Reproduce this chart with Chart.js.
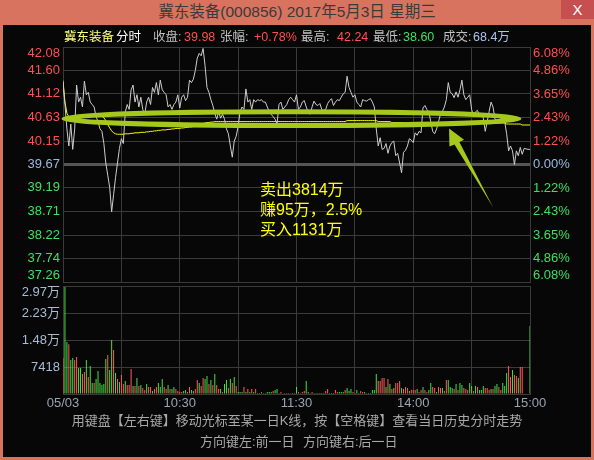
<!DOCTYPE html>
<html>
<head>
<meta charset="utf-8">
<script src="https://cdn.jsdelivr.net/npm/chart.js@4.4.1/dist/chart.umd.min.js"></script>
<style>
body{margin:0;width:594px;height:460px;background:#d7735f;overflow:hidden;position:relative;font-family:"Liberation Sans","Noto Sans CJK SC",sans-serif;}
#title{position:absolute;left:0;top:0;width:594px;height:25px;line-height:23px;text-align:center;color:#3a3a3a;font-size:15.5px;}
#close{position:absolute;right:0;top:0;width:33px;height:19px;background:#c64f4f;color:#fff;text-align:center;font-size:15px;line-height:19px;}
#frame{position:absolute;left:3px;top:25px;width:588px;height:432px;background:#070707;}
canvas{position:absolute;left:0;}
#price{top:0;}
#vol{top:262px;}
.hd{position:absolute;top:29px;font-size:12.5px;line-height:16px;white-space:nowrap;}
#note{position:absolute;left:260px;top:180px;font-size:16px;line-height:20px;color:#ffff00;white-space:nowrap;}
.ft{position:absolute;font-size:13px;line-height:16px;color:#a8a8a8;white-space:nowrap;}
</style>
</head>
<body>
<div id="title">冀东装备(000856) 2017年5月3日 星期三</div>
<div id="close">X</div>
<div id="frame"></div>
<canvas id="price" width="594" height="310"></canvas>
<canvas id="vol" width="594" height="198"></canvas>

<div class="hd" style="left:64px;color:#ffff80">冀东装备</div>
<div class="hd" style="left:116px;color:#ffffff">分时</div>
<div class="hd" style="left:153px;color:#c0c0c0">收盘:</div>
<div class="hd" style="left:184px;color:#ff5050">39.98</div>
<div class="hd" style="left:220px;color:#c0c0c0">张幅:</div>
<div class="hd" style="left:254px;color:#ff5050">+0.78%</div>
<div class="hd" style="left:301px;color:#c0c0c0">最高:</div>
<div class="hd" style="left:337px;color:#ff5050">42.24</div>
<div class="hd" style="left:373px;color:#c0c0c0">最低:</div>
<div class="hd" style="left:403px;color:#40e060">38.60</div>
<div class="hd" style="left:443px;color:#c0c0c0">成交:</div>
<div class="hd" style="left:473px;color:#a8c4ec">68.4万</div>

<div id="note">卖出3814万<br>赚95万，2.5%<br>买入1131万</div>

<div class="ft" style="left:0;width:594px;text-align:center;top:413px">用键盘【左右键】移动光标至某一日K线，按【空格键】查看当日历史分时走势</div>
<div class="ft" style="left:200px;top:434px">方向键左:前一日</div>
<div class="ft" style="left:303px;top:434px">方向键右:后一日</div>

<script>
const prevClose = 39.67;

// minute closes 09:30 .. 15:00 (241 points)
const price = [
  41.35, 40.90, 40.40, 40.05, 40.50, 39.98, 40.40, 41.30, 40.95, 41.05,
  40.85, 41.38, 41.10, 41.15, 40.95, 40.90, 40.85, 40.65, 40.55, 40.40,
  40.35, 40.10, 39.70, 39.45, 39.20, 38.70, 39.05, 39.40, 39.70, 40.00,
  40.20, 40.10, 40.75, 40.90, 40.80, 41.20, 41.30, 40.95, 41.10, 40.85,
  41.05, 40.80, 40.70, 40.95, 41.05, 40.90, 41.25, 41.15, 41.35, 41.10,
  41.40, 41.20, 41.15, 41.10, 40.85, 40.90, 40.80, 40.90, 40.95, 41.10,
  40.83, 41.05, 41.10, 40.98, 41.05, 41.40, 41.35, 41.42, 41.60, 41.85,
  41.95, 41.90, 42.05, 41.70, 41.25, 41.15, 41.00, 40.88, 40.72, 40.60,
  40.75, 40.62, 40.70, 40.60, 40.40, 40.30, 40.05, 39.82, 40.15, 40.25,
  40.45, 40.75, 40.85, 40.80, 41.22, 40.95, 41.00, 40.80, 41.00, 40.95,
  41.00, 40.98, 41.00, 40.95, 40.95, 40.85, 40.75, 40.70, 40.65, 40.60,
  40.50, 40.90, 40.95, 40.80, 40.85, 40.90, 41.00, 41.05, 41.00, 40.95,
  41.10, 40.80, 40.85, 40.95, 40.98, 40.85, 40.75, 40.70, 40.85, 40.97,
  40.90, 40.88, 40.92, 40.80, 40.78, 40.80, 40.92, 40.98, 41.02, 40.88,
  40.95, 41.00, 40.98, 41.05, 41.12, 41.15, 41.48, 41.25, 41.15, 41.05,
  41.10, 40.95, 40.90, 40.85, 41.00, 40.98, 40.97, 41.00, 41.02, 40.95,
  40.85, 40.40, 40.05, 40.22, 39.98, 40.00, 40.10, 39.90, 40.05, 40.12,
  40.15, 39.85, 39.90, 39.70, 39.50, 39.92, 39.96, 40.05, 40.20, 40.17,
  40.12, 40.32, 40.27, 40.35, 40.32, 40.83, 40.88, 40.80, 40.75, 40.55,
  40.35, 40.30, 40.40, 40.55, 40.70, 40.76, 40.85, 41.00, 41.35, 41.15,
  41.12, 41.04, 41.16, 41.05, 41.20, 41.40, 41.10, 41.00, 41.05, 41.10,
  40.80, 40.65, 40.75, 40.78, 40.68, 40.72, 40.62, 40.35, 40.55, 40.76,
  40.95, 40.85, 40.60, 40.58, 40.55, 40.62, 40.62, 40.55, 40.30, 39.95,
  40.05, 39.95, 39.67, 39.95, 39.85, 40.02, 39.88, 40.00, 39.99, 39.98,
  39.98
];

// average price line
const avgPrice = [
  41.39, 40.95, 40.72, 40.65, 40.63, 40.62, 40.62, 40.63, 40.63, 40.64,
  40.64, 40.66, 40.67, 40.67, 40.68, 40.68, 40.68, 40.68, 40.68, 40.67,
  40.66, 40.63, 40.57, 40.49, 40.42, 40.36, 40.32, 40.30, 40.29, 40.29,
  40.29, 40.29, 40.30, 40.30, 40.30, 40.31, 40.31, 40.32, 40.32, 40.32,
  40.33, 40.33, 40.33, 40.34, 40.34, 40.35, 40.35, 40.36, 40.36, 40.37,
  40.37, 40.38, 40.38, 40.38, 40.39, 40.39, 40.40, 40.40, 40.41, 40.41,
  40.41, 40.42, 40.42, 40.43, 40.43, 40.44, 40.44, 40.45, 40.46, 40.47,
  40.49, 40.50, 40.51, 40.52, 40.53, 40.53, 40.54, 40.54, 40.55, 40.55,
  40.55, 40.55, 40.55, 40.55, 40.55, 40.55, 40.55, 40.55, 40.55, 40.55,
  40.55, 40.55, 40.55, 40.55, 40.55, 40.55, 40.55, 40.55, 40.55, 40.55,
  40.55, 40.55, 40.55, 40.55, 40.55, 40.55, 40.55, 40.55, 40.55, 40.55,
  40.55, 40.55, 40.55, 40.55, 40.55, 40.55, 40.55, 40.55, 40.55, 40.55,
  40.55, 40.55, 40.55, 40.55, 40.55, 40.55, 40.55, 40.55, 40.55, 40.55,
  40.55, 40.55, 40.55, 40.55, 40.55, 40.55, 40.55, 40.55, 40.55, 40.55,
  40.55, 40.55, 40.55, 40.55, 40.55, 40.55, 40.57, 40.57, 40.57, 40.57,
  40.57, 40.57, 40.57, 40.57, 40.57, 40.57, 40.57, 40.57, 40.57, 40.57,
  40.57, 40.57, 40.55, 40.55, 40.55, 40.55, 40.55, 40.55, 40.55, 40.53,
  40.53, 40.53, 40.53, 40.53, 40.53, 40.53, 40.51, 40.51, 40.51, 40.51,
  40.51, 40.51, 40.51, 40.51, 40.51, 40.51, 40.51, 40.51, 40.51, 40.51,
  40.51, 40.51, 40.51, 40.51, 40.51, 40.51, 40.51, 40.51, 40.51, 40.51,
  40.51, 40.52, 40.52, 40.52, 40.52, 40.52, 40.52, 40.52, 40.52, 40.52,
  40.52, 40.52, 40.52, 40.52, 40.52, 40.52, 40.52, 40.52, 40.52, 40.52,
  40.52, 40.52, 40.52, 40.52, 40.52, 40.52, 40.52, 40.52, 40.50, 40.50,
  40.50, 40.50, 40.50, 40.50, 40.50, 40.50, 40.48, 40.48, 40.48, 40.48,
  40.48
];

// volume per minute (shares in 手)
const volume = [
  9900, 29400, 14300, 13650, 9340, 9900, 9340, 10170, 7150, 7150,
  5500, 6050, 9340, 4670, 7700, 3020, 3020, 4120, 6320, 3020,
  2470, 2750, 9600, 10700, 6600, 14840, 12090, 5770, 4120, 3300,
  5220, 2750, 3570, 2470, 2470, 6900, 2200, 2200, 4400, 2200,
  2470, 1650, 1100, 2750, 1920, 1920, 820, 1370, 1920, 3020,
  1920, 4120, 1920, 1370, 2470, 1370, 1370, 1920, 1370, 820,
  550, 550, 820, 1100, 550, 1920, 1100, 820, 1370, 3850,
  3020, 2200, 4400, 4120, 4950, 2750, 3850, 2470, 5500, 2470,
  1370, 1370, 550, 2750, 3850, 1650, 4120, 3020, 4670, 2200,
  550, 550, 550, 1920, 550, 1370, 550, 1370, 550, 1370,
  270, 270, 550, 270, 270, 550, 550, 550, 820, 1100,
  1370, 270, 550, 100, 270, 270, 270, 100, 270, 270,
  1920, 550, 270, 550, 820, 3570, 550, 270, 550, 270,
  270, 270, 270, 270, 270, 820, 1370, 270, 270, 270,
  1100, 550, 550, 550, 550, 1100, 1650, 820, 1370, 550,
  270, 1100, 270, 820, 550, 550, 270, 270, 270, 1100,
  1100, 5500, 3570, 3570, 4400, 4400, 1920, 4120, 2750, 1370,
  1650, 3020, 3020, 3570, 1650, 1370, 1920, 1650, 820, 1100,
  1100, 1100, 1370, 550, 1100, 1920, 1100, 550, 1100, 3020,
  1920, 1650, 550, 1920, 1650, 1650, 820, 3850, 3850, 1920,
  1650, 1370, 2750, 1100, 3020, 2470, 1650, 1370, 1100, 3020,
  2200, 820, 2200, 1920, 1100, 1100, 2200, 1650, 1650, 1100,
  1370, 1370, 2200, 2750, 1920, 1100, 3020, 2200, 5770, 7700,
  4670, 6600, 5220, 4950, 4400, 7400, 7400, 0, 0, 0,
  18700
];

// r = trade up (red), g = trade down (green)
const volSide = (
  'rggrggrrgg' + 'rrgrggrggg' + 'gggrggrgrg' + 'rrgrrrgrgr' + 'grrgrrgrrg' +
  'ggrrgrggrr' + 'rrggrrggrr' + 'grrggrgrgr' + 'rgrggrgrgr' + 'gggrgrgrgr' +
  'ggrrggggrg' + 'grrgrrrrgr' + 'grrrrggrrg' + 'rggggrrggg' + 'rrgggrgggr' +
  'rggrrgrggg' + 'ggrrrrgrgr' + 'grrrgrrrgr' + 'rrgrrgrrgg' + 'rrgrrgrrgg' +
  'grgrggrrrg' + 'grgrgggrrr' + 'grggrrgggr' + 'rgrrgrrrrr' + 'g'
).split('');

const priceTicks = [37.26, 37.74, 38.22, 38.71, 39.19, 39.67, 40.15, 40.63, 41.12, 41.60, 42.08];
const pctTicks = [-6.08, -4.86, -3.65, -2.43, -1.22, 0, 1.22, 2.43, 3.65, 4.86, 6.08];
const volTicks = [0, 7418, 14836, 22254, 29672];
const volTickLabels = ['', '7418', '1.48万', '2.23万', '2.97万'];
const timeTicks = [0, 60, 120, 180, 240];
const timeLabels = ['05/03', '10:30', '11:30', '14:00', '15:00'];

// hand-drawn markup, in chart units (minute, price)
const ring = {x0: 0.5, x1: 234.3, y: 40.61, h: 0.14};
const arrowPts = [[198.4, 40.41], [206.1, 40.18], [203.7, 40.13], [221.1, 38.79], [201.2, 40.08], [198.6, 40.04]];

const gridColor = '#3a3a3a',
    zeroColor = '#555555',
    red = '#ff5050',
    green = '#3ee060',
    blue = '#9cb8e0',
    font = {family: '"Liberation Sans", "Noto Sans CJK SC", sans-serif', size: 13, lineHeight: 1.0};

function edgeLabel(text, i, n) {
    if (i === n - 1) return ['', text];
    if (i === 0) return [text, ''];
    return text;
}

const markup = {
    id: 'markup',
    afterDatasetsDraw(chart) {
        const ctx = chart.ctx, xs = chart.scales.x, ys = chart.scales.y;
        const l = xs.getPixelForValue(ring.x0), r = xs.getPixelForValue(ring.x1);
        const cy = ys.getPixelForValue(ring.y);
        const ry = ys.getPixelForValue(ring.y - ring.h) - cy;
        ctx.save();
        ctx.strokeStyle = '#a6c81c';
        ctx.fillStyle = '#a6c81c';
        ctx.lineWidth = 5;
        ctx.beginPath();
        ctx.ellipse((l + r) / 2, cy, (r - l) / 2, ry, 0, 0, Math.PI * 2);
        ctx.stroke();
        ctx.beginPath();
        arrowPts.forEach((p, i) => {
            const px = xs.getPixelForValue(p[0]), py = ys.getPixelForValue(p[1]);
            if (i === 0) ctx.moveTo(px, py); else ctx.lineTo(px, py);
        });
        ctx.closePath();
        ctx.fill();
        ctx.restore();
    }
};

new Chart(document.getElementById('price'), {
    type: 'line',
    data: {
        datasets: [{
            data: price.map((v, i) => ({x: i, y: v})),
            borderColor: '#cdcdcd',
            borderWidth: 1,
            pointRadius: 0,
            tension: 0
        }, {
            data: avgPrice.map((v, i) => ({x: i, y: v})),
            borderColor: '#ffff00',
            borderWidth: 1,
            pointRadius: 0,
            tension: 0
        }]
    },
    options: {
        responsive: false,
        animation: false,
        events: [],
        layout: {padding: {top: 47, bottom: 28, left: 0, right: 0}},
        plugins: {legend: {display: false}, tooltip: {enabled: false}},
        scales: {
            x: {
                type: 'linear', min: 0, max: 240,
                ticks: {display: false, stepSize: 30},
                grid: {color: gridColor, drawTicks: false},
                border: {color: gridColor}
            },
            y: {
                position: 'left', min: priceTicks[0], max: priceTicks[priceTicks.length - 1],
                afterBuildTicks: s => { s.ticks = priceTicks.map(v => ({value: v})); },
                afterFit: s => { s.width = 63; },
                ticks: {
                    font: font, padding: 3, autoSkip: false,
                    color: c => c.tick.value > prevClose + 0.001 ? red : (c.tick.value < prevClose - 0.001 ? green : blue),
                    callback: (v, i, t) => edgeLabel(v.toFixed(2), i, t.length)
                },
                grid: {
                    drawTicks: false,
                    color: c => c.tick && Math.abs(c.tick.value - prevClose) < 0.001 ? zeroColor : gridColor,
                    lineWidth: c => c.tick && Math.abs(c.tick.value - prevClose) < 0.001 ? 3 : 1
                },
                border: {color: gridColor}
            },
            pct: {
                position: 'right', min: -6.08, max: 6.08,
                afterBuildTicks: s => { s.ticks = pctTicks.map(v => ({value: v})); },
                afterFit: s => { s.width = 64; },
                ticks: {
                    font: font, padding: 3, autoSkip: false,
                    color: c => c.tick.value > 0 ? red : (c.tick.value < 0 ? green : blue),
                    callback: (v, i, t) => edgeLabel(Math.abs(v).toFixed(2) + '%', i, t.length)
                },
                grid: {display: false, drawTicks: false},
                border: {display: false}
            }
        }
    },
    plugins: [markup]
});

new Chart(document.getElementById('vol'), {
    type: 'bar',
    data: {
        datasets: [{
            data: volume.map((v, i) => ({x: i, y: v})),
            backgroundColor: volSide.map(s => s === 'r' ? '#ff5c5c' : '#44e044'),
            barThickness: 1,
            inflateAmount: 0,
            borderWidth: 0
        }]
    },
    options: {
        responsive: false,
        animation: false,
        events: [],
        layout: {padding: {top: 24, bottom: 46, left: 0, right: 64}},
        plugins: {legend: {display: false}, tooltip: {enabled: false}},
        scales: {
            x: {
                type: 'linear', min: 0, max: 240, offset: false,
                afterFit: s => { s.height = 20; },
                ticks: {
                    stepSize: 30, autoSkip: false, maxRotation: 0, padding: 3,
                    font: font, color: '#9aa2b4',
                    callback: v => { const k = timeTicks.indexOf(v); return k < 0 ? '' : timeLabels[k]; }
                },
                grid: {color: gridColor, drawTicks: false, offset: false},
                border: {color: gridColor}
            },
            y: {
                min: 0, max: volTicks[volTicks.length - 1],
                afterBuildTicks: s => { s.ticks = volTicks.map(v => ({value: v})); },
                afterFit: s => { s.width = 63; },
                ticks: {
                    font: font, padding: 3, color: '#aabbd6', autoSkip: false,
                    callback: (v, i, t) => edgeLabel(volTickLabels[i], i, t.length)
                },
                grid: {color: gridColor, drawTicks: false},
                border: {color: gridColor}
            }
        }
    }
});
</script>
</body>
</html>
